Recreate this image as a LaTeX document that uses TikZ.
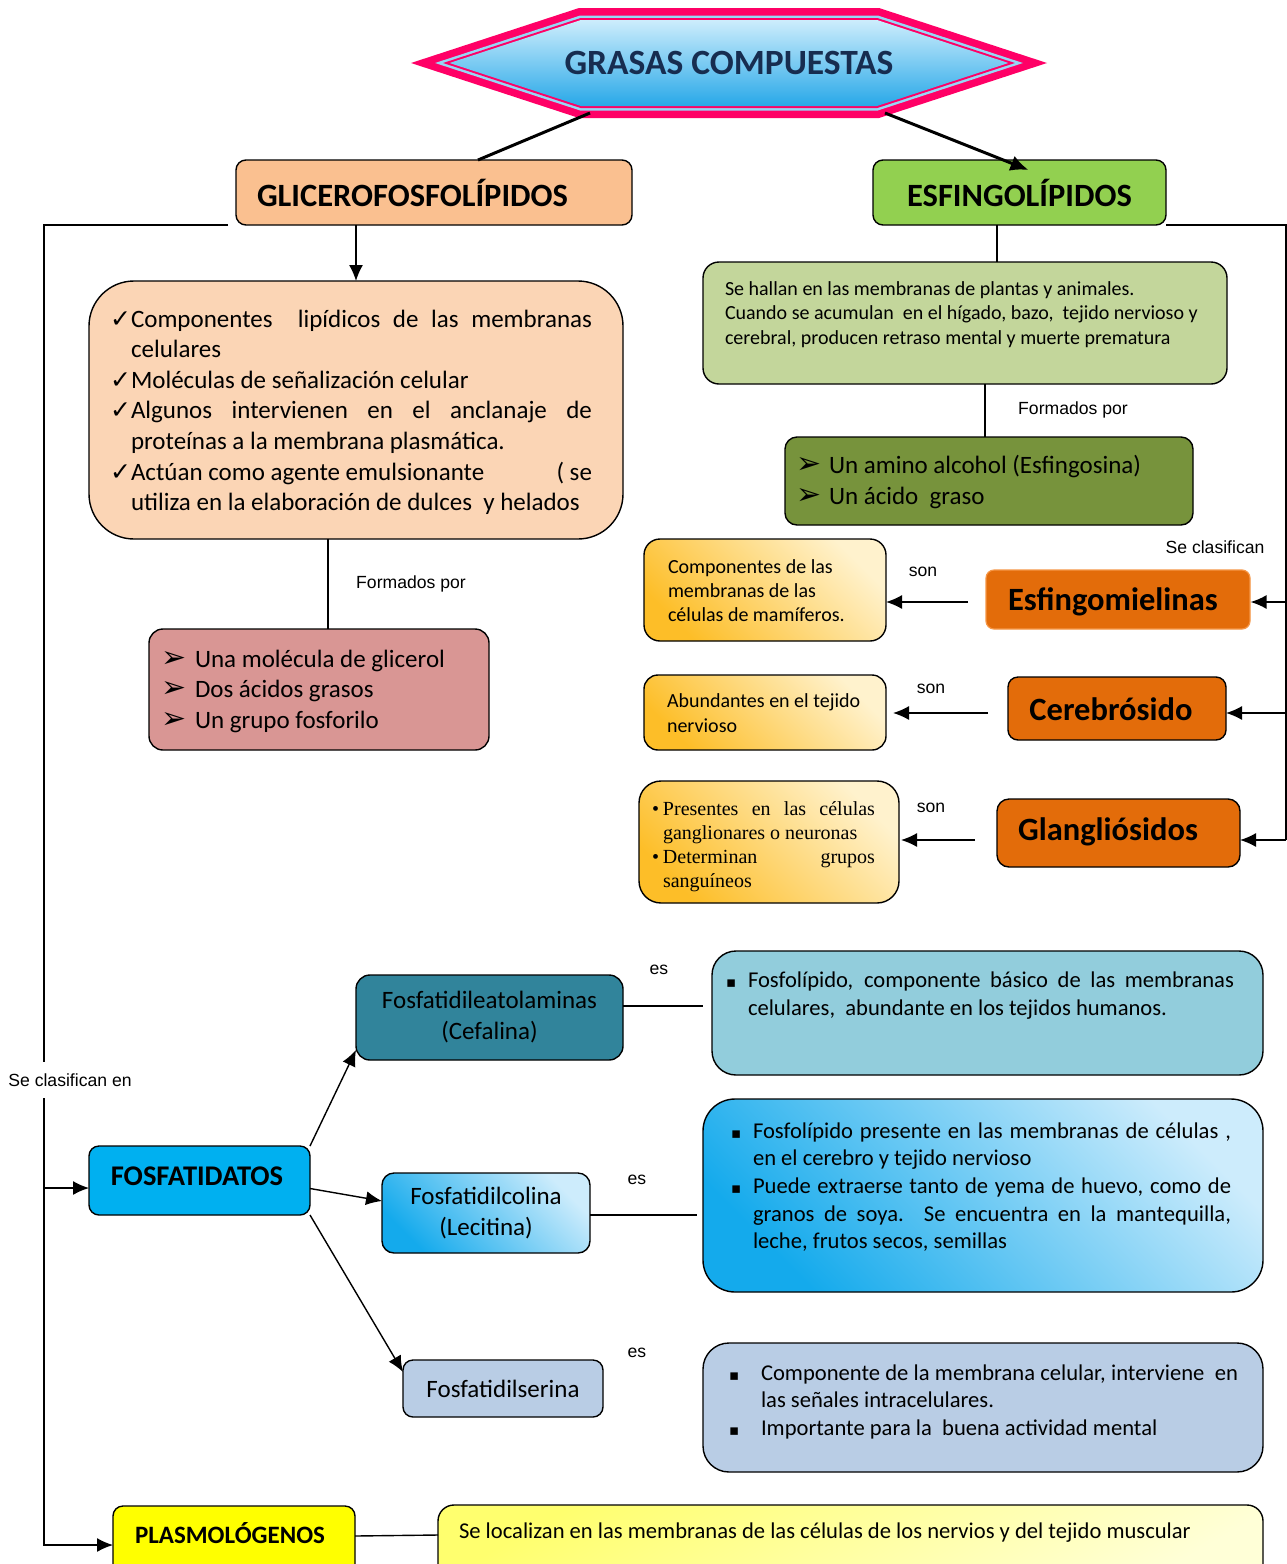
\documentclass[tikz,border=0pt]{standalone}
\usepackage{fontspec}
\setmainfont{Carlito}
\newfontfamily\arialf{Liberation Sans}
\newfontfamily\timesf{Liberation Serif}
\newfontfamily\symf{DejaVu Sans}
\usetikzlibrary{arrows.meta,calc}

\definecolor{cPink}{RGB}{255,0,102}
\definecolor{cHexLine}{RGB}{150,215,245}
\definecolor{cHexTop}{RGB}{205,237,252}
\definecolor{cHexBot}{RGB}{40,168,232}
\definecolor{cTitle}{RGB}{23,45,80}
\definecolor{cGlic}{RGB}{250,192,144}
\definecolor{cEsf}{RGB}{146,208,80}
\definecolor{cChk}{RGB}{251,213,181}
\definecolor{cRose}{RGB}{217,150,148}
\definecolor{cLGreen}{RGB}{195,214,155}
\definecolor{cDGreen}{RGB}{119,147,60}
\definecolor{cOrange}{RGB}{227,108,10}
\definecolor{cOrangeEdge}{RGB}{245,150,70}
\definecolor{cGoldDark}{RGB}{253,190,40}
\definecolor{cGoldLight}{RGB}{255,242,205}
\definecolor{cTeal}{RGB}{49,132,155}
\definecolor{cLTeal}{RGB}{146,205,220}
\definecolor{cCyan}{RGB}{0,176,240}
\definecolor{cBlueDark}{RGB}{20,170,236}
\definecolor{cBlueLight}{RGB}{205,236,252}
\definecolor{cSteel}{RGB}{185,205,229}
\definecolor{cYellow}{RGB}{255,255,0}
\definecolor{cPaleY1}{RGB}{255,255,110}
\definecolor{cPaleY2}{RGB}{255,255,215}

% list helpers
\newcommand\chkitem[1]{\noindent\hangindent=21pt\hangafter=1\makebox[21pt][l]{\symf\fontsize{25}{25}\selectfont ✓}#1\par}
\newcommand\sqitem[2]{\noindent\hangindent=#1\hangafter=1\makebox[#1][l]{\symf\fontsize{15}{15}\selectfont ▪}#2\par}
\newcommand\dotitem[1]{\noindent\hangindent=11pt\hangafter=1\makebox[11pt][l]{•}#1\par}
\newcommand\arrmark[1]{\makebox[#1][l]{\symf\fontsize{30}{30}\selectfont ➢}}
% hexagon outline, inset by #1
\newcommand\hexring[1]{({411+3.21*#1},63) -- ({579+0.16*#1},{8+#1}) -- ({879-0.16*#1},{8+#1}) -- ({1047-3.21*#1},63) -- ({879-0.16*#1},{118-#1}) -- ({579+0.16*#1},{118-#1}) -- cycle}

\begin{document}
\begin{tikzpicture}[x=1pt,y=-1pt,
  conn/.style={line width=1.4pt},
  arr/.style={line width=1.4pt,-{Latex[length=16pt,width=14pt]}},
  box/.style={draw=black,line width=1.4pt,rounded corners=#1,inner sep=0pt,outer sep=0pt},
  box/.default=10pt,
  txt/.style={inner sep=0pt,outer sep=0pt},
  lbl/.style={font=\arialf\fontsize{17.6}{17.6}\selectfont},
  bigtitle/.style={font=\bfseries\fontsize{32.5}{32.5}\selectfont},
  midtitle/.style={font=\fontsize{25}{31}\selectfont,align=center},
  diag/.style={shading angle=-45}
]
\useasboundingbox (0,0) rectangle (1287,1564);
\fill[white] (0,0) rectangle (1287,1564);
\clip (0,0) rectangle (1287,1564);

% ---------- title hexagon ----------
\fill[cPink] \hexring{0};
\fill[cHexLine] \hexring{7.5};
\fill[cPink] \hexring{10};
\shade[top color=cHexTop,bottom color=cHexBot] \hexring{12};
\node[font=\bfseries\fontsize{35.5}{35.5}\selectfont,text=cTitle] (title) at (729,63) {GRASAS COMPUESTAS};
\coordinate (hexBL) at (590,113);
\coordinate (hexBR) at (885,113);

% ---------- main branches ----------
\node[box,fill=cGlic,minimum width=396,minimum height=65] (glic) at (434,192.5) {};
\node[txt,bigtitle,anchor=west] (glicTxt) at (257,193) {GLICEROFOSFOLÍPIDOS};
\node[box,fill=cEsf,minimum width=293,minimum height=65,bigtitle] (esf) at (1019.5,192.5) {ESFINGOLÍPIDOS};

\draw[line width=3pt] (hexBL) -- ([xshift=44]glic.north);
\draw[line width=3pt,-{Latex[length=18pt,width=16pt]}] (hexBR) -- ([xshift=9,yshift=-10]esf.north);

% ---------- glycerophospholipids ----------
\node[box=45pt,fill=cChk,minimum width=534,minimum height=258] (chk) at (356,410) {};
\node[txt,anchor=base west,text width=482,align=justify,font=\fontsize{25}{30.6}\selectfont] (chkTxt) at (110,327) {%
\chkitem{Componentes\ \ lipídicos de las membranas\linebreak celulares}
\chkitem{Moléculas de señalización celular}
\chkitem{Algunos intervienen en el anclanaje de\linebreak proteínas a la membrana plasmática.}
\chkitem{Actúan como agente emulsionante\hfill( se\linebreak utiliza en la elaboración de dulces\ \ y helados}};
\draw[arr] (glic.south -| chk.north) -- (chk.north);

\node[box=14pt,fill=cRose,minimum width=340,minimum height=121] (rose) at (319,689.5) {};
\node[txt,anchor=base west,align=left,font=\fontsize{25}{30.5}\selectfont] (roseTxt) at (161,728) {%
\arrmark{34pt}Una molécula de glicerol\\
\arrmark{34pt}Dos ácidos grasos\\
\arrmark{34pt}Un grupo fosforilo};
\draw[conn] (chk.south -| 328,0) -- (rose.north -| 328,0);
\node[lbl] (lblForm1) at (411,584) {Formados por};

% ---------- sphingolipids ----------
\node[box=16pt,fill=cLGreen,minimum width=524,minimum height=122] (lgreen) at (965,323) {};
\node[txt,anchor=base west,align=left,font=\fontsize{20}{24.5}\selectfont] (lgTxt) at (725,344) {%
Se hallan en las membranas de plantas y animales.\\
Cuando se acumulan\ \ en el hígado, bazo,\ \ tejido nervioso y\\
cerebral, producen retraso mental y muerte prematura};
\draw[conn] (esf.south -| 997,0) -- (lgreen.north -| 997,0);

\node[box=12pt,fill=cDGreen,minimum width=408,minimum height=88] (dgreen) at (989,481) {};
\node[txt,anchor=base west,align=left,font=\fontsize{25}{31}\selectfont] (dgTxt) at (796,504) {%
\arrmark{33pt}Un amino alcohol (Esfingosina)\\
\arrmark{33pt}Un ácido\ \ graso};
\draw[conn] (lgreen.south -| 985,0) -- (dgreen.north -| 985,0);
\node[lbl] (lblForm2) at (1073,410) {Formados por};

% sphingolipid classes
\node[draw=cOrangeEdge,line width=1.2pt,rounded corners=8pt,fill=cOrange,minimum width=264,minimum height=59,inner sep=0pt] (esfm) at (1118,599.5) {};
\node[txt,bigtitle] (esfmTxt) at (1113,602) {Esfingomielinas};
\node[box,fill=cOrange,minimum width=218,minimum height=63] (cereb) at (1117,708.5) {};
\node[txt,bigtitle] (cerebTxt) at (1111,709) {Cerebrósido};
\node[box=12pt,fill=cOrange,minimum width=243,minimum height=68] (glang) at (1118.5,833) {};
\node[txt,bigtitle] (glangTxt) at (1108,832) {Glangliósidos};

\draw[conn] (esf.south east) -- (1286,225) -- (1286,840);
\draw[arr] (1286,602) -- (esfm.east |- 0,602);
\draw[arr] (1286,713) -- (cereb.east |- 0,713);
\draw[arr] (1286,840) -- (glang.east |- 0,840);
\node[lbl] (lblClas) at (1215,547) {Se clasifican};

% descriptions of the classes
\node[box=16pt,top color=cGoldLight,bottom color=cGoldDark,diag,minimum width=242,minimum height=102] (desc1) at (765,590) {};
\node[txt,anchor=base west,align=left,font=\fontsize{20}{24}\selectfont] (desc1Txt) at (668,621) {%
Componentes de las\\membranas de las\\células de mamíferos.};
\node[box=14pt,top color=cGoldLight,bottom color=cGoldDark,diag,minimum width=242,minimum height=75] (desc2) at (765,712.5) {};
\node[txt,anchor=base west,align=left,font=\fontsize{20}{25}\selectfont] (desc2Txt) at (667,732) {%
Abundantes en el tejido\\nervioso};
\node[box=22pt,top color=cGoldLight,bottom color=cGoldDark,diag,minimum width=260,minimum height=122] (desc3) at (769,842) {};
\node[txt,anchor=base west,text width=223,align=justify,font=\timesf\fontsize{20}{24}\selectfont] (desc3Txt) at (652,815) {%
\dotitem{Presentes en las células\linebreak ganglionares o neuronas}
\dotitem{Determinan grupos\linebreak sanguíneos}};

\coordinate (son1) at (968,602);
\coordinate (son2) at (988,713);
\coordinate (son3) at (975,840);
\draw[arr] (son1) -- (desc1.east |- son1);
\draw[arr] (son2) -- ([xshift=7]desc2.east |- son2);
\draw[arr] (son3) -- ([xshift=2]desc3.east |- son3);
\node[lbl] (lblSon1) at (923,572) {son};
\node[lbl] (lblSon2) at (931,689) {son};
\node[lbl] (lblSon3) at (931,808) {son};

% ---------- classification of glycerophospholipids ----------
\draw[conn] ([xshift=-8]glic.south west) -- (44,225) -- (44,1062);
\node[lbl] (lblClasEn) at (70,1080) {Se clasifican en};
\draw[conn] (44,1098) -- (44,1546);

\node[box,fill=cCyan,minimum width=221,minimum height=69] (fosfat) at (199.5,1180.5) {};
\node[txt,font=\bfseries\fontsize{28.5}{28.5}\selectfont] (fosfatTxt) at (197,1176) {FOSFATIDATOS};
\draw[arr] (44,1188) -- (fosfat.west |- 0,1188);

\node[box=14pt,fill=cTeal,minimum width=267,minimum height=85,midtitle] (cefal) at (489.5,1017.5) {Fosfatidileatolaminas\\(Cefalina)};
\node[box=12pt,top color=cBlueLight,bottom color=cBlueDark,diag,minimum width=208,minimum height=80,midtitle] (colina) at (486,1213) {Fosfatidilcolina\\(Lecitina)};
\node[box,fill=cSteel,minimum width=200,minimum height=57,midtitle] (serina) at (503,1388.5) {Fosfatidilserina};

\draw[arr] (fosfat.north east) -- ([yshift=10]cefal.south west);
\draw[arr] ([yshift=-8]fosfat.east) -- ([yshift=12]colina.west);
\draw[arr] (fosfat.south east) -- ([yshift=-12]serina.north west);

% descriptions
\node[box=24pt,fill=cLTeal,minimum width=551,minimum height=124] (tealDesc) at (987.5,1013) {};
\node[txt,anchor=base west,text width=508,align=justify,font=\fontsize{22.6}{28}\selectfont] (tealTxt) at (726,987) {%
\sqitem{22pt}{Fosfolípido, componente básico de las membranas\linebreak celulares,\ \ abundante en los tejidos humanos.}};
\node[box=32pt,top color=cBlueLight,bottom color=cBlueDark,diag,minimum width=560,minimum height=193] (blueDesc) at (983,1195.5) {};
\node[txt,anchor=base west,text width=500,align=justify,font=\fontsize{22.6}{27.7}\selectfont] (blueTxt) at (731,1138) {%
\sqitem{22pt}{Fosfolípido presente en las membranas de células ,\linebreak en el cerebro y tejido nervioso}
\sqitem{22pt}{Puede extraerse tanto de yema de huevo, como de\linebreak granos de soya. Se encuentra en la mantequilla,\linebreak leche, frutos secos, semillas}};
\node[box=26pt,fill=cSteel,minimum width=560,minimum height=129] (steelDesc) at (983,1407.5) {};
\node[txt,anchor=base west,text width=509,align=justify,font=\fontsize{22.6}{27.5}\selectfont] (steelTxt) at (729,1380) {%
\sqitem{32pt}{Componente de la membrana celular, interviene\ \ en\linebreak las señales intracelulares.}
\sqitem{32pt}{Importante para la\ \ buena actividad mental}};

\draw[conn] (cefal.east |- 0,1006) -- (703,1006);
\draw[conn] (colina.east |- 0,1215) -- (697,1215);
\node[lbl] (lblEs1) at (659,970) {es};
\node[lbl] (lblEs2) at (637,1180) {es};
\node[lbl] (lblEs3) at (637,1353) {es};

% ---------- plasmalogens ----------
\node[box,fill=cYellow,minimum width=242,minimum height=78] (plasmo) at (234,1545) {};
\node[txt,font=\bfseries\fontsize{25}{25}\selectfont] (plasmoTxt) at (230,1533) {PLASMOLÓGENOS};
\draw[arr] (44,1545) -- (plasmo.west);
\node[box=16pt,top color=cPaleY1,bottom color=cPaleY2,shading angle=30,minimum width=825,minimum height=85] (yellowDesc) at (850.5,1547.5) {};
\node[txt,anchor=base west,font=\fontsize{22.6}{22.6}\selectfont] (yellowTxt) at (459,1538) {Se localizan en las membranas de las células de los nervios y del tejido muscular};
\draw[conn] (plasmo.east |- 0,1536) -- (yellowDesc.west |- 0,1535);
\end{tikzpicture}
\end{document}
